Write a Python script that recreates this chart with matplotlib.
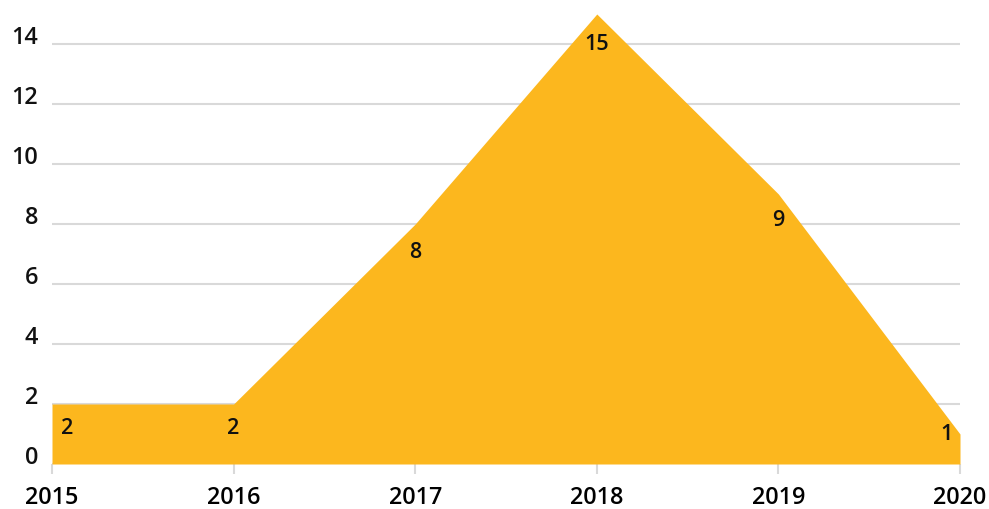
import matplotlib.pyplot as plt
from matplotlib.transforms import blended_transform_factory, offset_copy

years = [2015, 2016, 2017, 2018, 2019, 2020]
counts = [2, 2, 8, 15, 9, 1]
y_ticks = [0, 2, 4, 6, 8, 10, 12, 14]

# pixel offsets for the value labels (dx, dy)
label_offsets = [(15, -24), (0, -24), (0, -29), (0, -31), (0, -27), (-13, -1)]

fill_color = "#FCB71E"
grid_color = "#D9D9D9"

plt.rcParams["font.family"] = ["Open Sans", "DejaVu Sans"]

fig = plt.figure(figsize=(9.89, 5.09), dpi=100)
ax = fig.add_axes([52 / 989, 45 / 509, 908 / 989, 450 / 509])

ax.set_xlim(years[0], years[-1])
ax.set_ylim(0, 15)

for t in y_ticks:
    ax.axhline(t, color=grid_color, lw=1.5, zorder=1)

ax.fill_between(years, counts, 0, color=fill_color, lw=0, zorder=2)

for spine in ax.spines.values():
    spine.set_visible(False)

ax.set_yticks([])
ax.set_xticks(years)
ax.set_xticklabels([str(y) for y in years], fontsize=16.8, fontweight="semibold")
ax.tick_params(axis="x", length=7, width=1.5, color=grid_color, pad=9)

ytrans = blended_transform_factory(ax.transAxes, ax.transData)
for t in y_ticks:
    ax.text(-14 / 908, t, str(t), transform=ytrans, ha="right", va="baseline",
            fontsize=16.8, fontweight="semibold", color="#111111")

for x, v, (dx, dy) in zip(years, counts, label_offsets):
    tr = offset_copy(ax.transData, fig=fig, x=dx, y=dy, units="dots")
    ax.text(x, v, str(v), transform=tr, ha="center", va="center",
            fontsize=15.5, fontweight="semibold", color="#111111", zorder=3)

fig.savefig("out.png", dpi=100)
